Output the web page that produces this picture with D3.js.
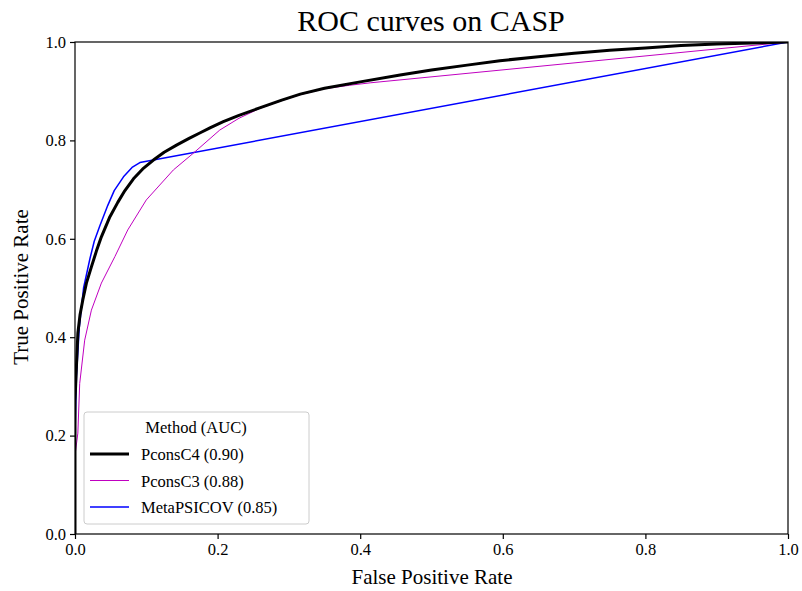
<!DOCTYPE html>
<html><head><meta charset="utf-8">
<script src="https://cdn.jsdelivr.net/npm/d3@7"></script>
<style>body{margin:0;background:#fff;} text{font-family:"Liberation Serif","DejaVu Serif",serif;}</style>
</head><body>
<svg id="c" width="802" height="591"></svg>
<script>
const xTicks = [0,0.2,0.4,0.6,0.8,1.0];
const yTicks = [0,0.2,0.4,0.6,0.8,1.0];
const pc4Fpr = [0,0,0.002,0.004,0.007,0.011,0.016,0.023,0.030,0.037,0.049,0.060,0.070,0.082,0.095,0.110,0.125,0.143,0.160,0.175,0.190,0.208,0.230,0.259,0.290,0.316,0.350,0.400,0.456,0.500,0.550,0.596,0.650,0.700,0.750,0.800,0.850,0.900,0.950,1.0];
const pc4Tpr = [0,0.27,0.34,0.408,0.445,0.476,0.51,0.543,0.575,0.604,0.645,0.674,0.698,0.722,0.742,0.760,0.776,0.791,0.804,0.815,0.826,0.838,0.851,0.866,0.882,0.894,0.906,0.919,0.933,0.943,0.953,0.962,0.970,0.977,0.983,0.988,0.993,0.996,0.998,1.0];
const pc3Fpr = [0,0,0.004,0.0066,0.0136,0.023,0.037,0.056,0.074,0.100,0.138,0.166,0.203,0.230,0.259,0.290,0.316,0.350,0.385,0.414,1.0];
const pc3Tpr = [0,0.16,0.205,0.306,0.394,0.455,0.51,0.564,0.618,0.679,0.740,0.774,0.821,0.845,0.865,0.881,0.893,0.905,0.912,0.917,1.0];
const metaFpr = [0,0,0.002,0.006,0.012,0.021,0.027,0.035,0.046,0.055,0.068,0.080,0.091,1.0];
const metaTpr = [0,0.2,0.32,0.42,0.5,0.56,0.595,0.627,0.668,0.698,0.726,0.745,0.755,1.0];
const seriesNames = ["PconsC4 (0.90)","PconsC3 (0.88)","MetaPSICOV (0.85)"];
const seriesColors = ["#000000","#c000c0","#0000ff"];
const seriesWidths = [3,1,1.5];

const svg = d3.select("#c");
const x = d3.scaleLinear().domain([0,1]).range([75,788]);
const y = d3.scaleLinear().domain([0,1]).range([534,42]);

svg.append("text").attr("x",431).attr("y",31).attr("text-anchor","middle")
  .attr("font-size",30).text("ROC curves on CASP");

const series = [
  {f:pc4Fpr,t:pc4Tpr},
  {f:pc3Fpr,t:pc3Tpr},
  {f:metaFpr,t:metaTpr}
];
const lineLin = d3.line().x(d=>x(d[0])).y(d=>y(d[1]));
svg.append("clipPath").attr("id","cp").append("rect")
  .attr("x",75).attr("y",42).attr("width",713).attr("height",492);
const g = svg.append("g").attr("clip-path","url(#cp)");
[2,1,0].forEach(i=>{
  const pts = series[i].f.map((v,k)=>[v,series[i].t[k]]);
  g.append("path").attr("d",lineLin(pts)).attr("fill","none")
   .attr("stroke",seriesColors[i]).attr("stroke-width",seriesWidths[i])
   .attr("stroke-linejoin","round");
});

// axes
const xa = svg.append("g").attr("transform","translate(0,534)")
  .call(d3.axisBottom(x).tickValues(xTicks).tickFormat(d3.format(".1f")).tickSize(5).tickPadding(4));
const ya = svg.append("g").attr("transform","translate(75,0)")
  .call(d3.axisLeft(y).tickValues(yTicks).tickFormat(d3.format(".1f")).tickSize(5).tickPadding(4));
[xa,ya].forEach(a=>{
  a.selectAll("text").attr("font-size",16.5).attr("fill","#000").style("font-family","'Liberation Serif',serif");
  a.selectAll("line").attr("stroke","#000").attr("stroke-width",1.2);
  a.select(".domain").remove();
});
// frame
svg.append("rect").attr("x",75).attr("y",42).attr("width",713).attr("height",492)
  .attr("fill","none").attr("stroke","#000").attr("stroke-width",1.2);

svg.append("text").attr("x",432).attr("y",584).attr("text-anchor","middle")
  .attr("font-size",21).text("False Positive Rate");
svg.append("text").attr("transform","translate(28,287) rotate(-90)").attr("text-anchor","middle")
  .attr("font-size",21).text("True Positive Rate");

// legend
const lg = svg.append("g");
lg.append("rect").attr("x",84).attr("y",412).attr("width",225).attr("height",112).attr("rx",3)
  .attr("fill","#fff").attr("fill-opacity",0.85).attr("stroke","#ccc").attr("stroke-width",1);
lg.append("text").attr("x",196).attr("y",433).attr("text-anchor","middle").attr("font-size",16.5).text("Method (AUC)");
seriesNames.forEach((n,i)=>{
  const yy = 454 + i*26.5;
  lg.append("line").attr("x1",90).attr("x2",129).attr("y1",yy).attr("y2",yy)
    .attr("stroke",seriesColors[i]).attr("stroke-width",seriesWidths[i]);
  lg.append("text").attr("x",141).attr("y",yy+6).attr("font-size",16.5).text(n);
});
</script>
</body></html>
